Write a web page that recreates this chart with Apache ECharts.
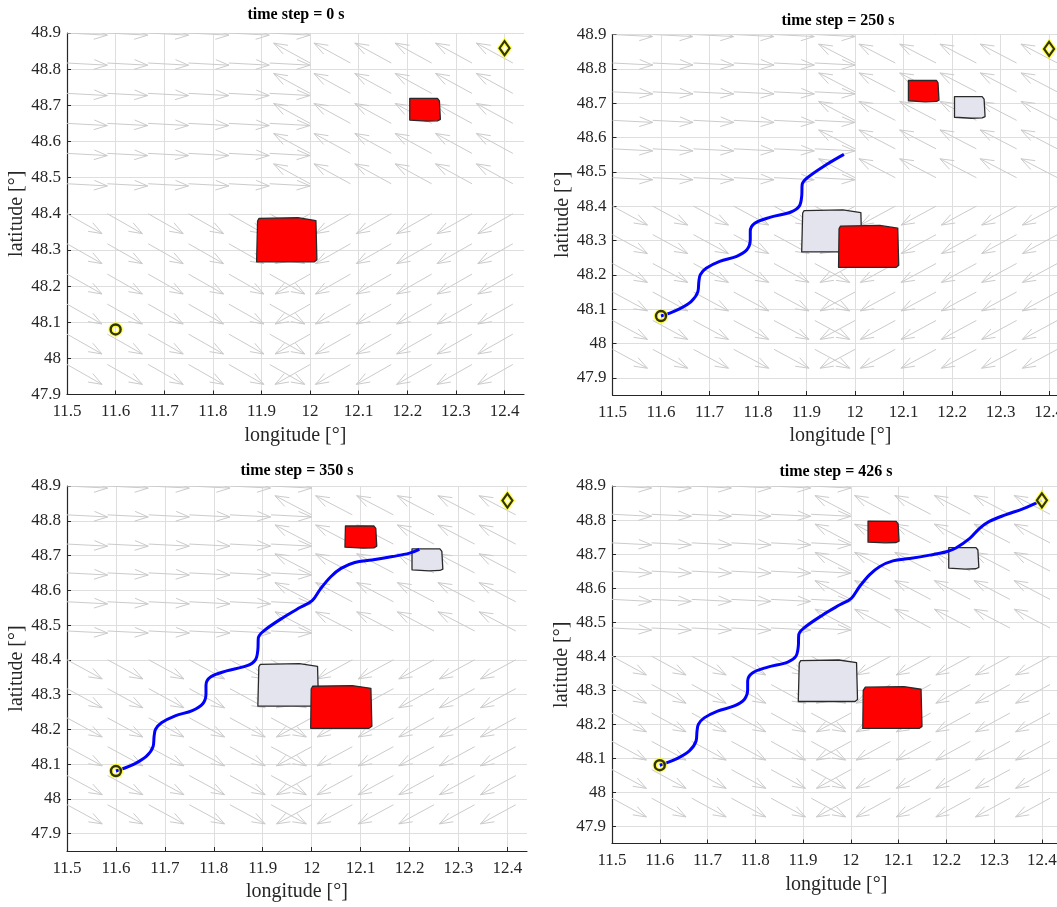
<!DOCTYPE html>
<html>
<head>
<meta charset="utf-8">
<title>time steps</title>
<script src="https://cdn.jsdelivr.net/npm/echarts@6/dist/echarts.min.js"></script>
<style>
  html, body { margin: 0; padding: 0; background: #fff; }
  #main { width: 1057px; height: 907px; }
</style>
</head>
<body>
<div id="main"></div>
<script>
// --- data ---
var timeSteps = [0, 250, 350, 426];
var xTicks = [11.5, 11.6, 11.7, 11.8, 11.9, 12, 12.1, 12.2, 12.3, 12.4];
var yTicks = [47.9, 48, 48.1, 48.2, 48.3, 48.4, 48.5, 48.6, 48.7, 48.8, 48.9];
var xRange = [11.5, 12.44];
var yMinByPanel = [47.9, 47.85, 47.85, 47.85];
var yMax = 48.9;

// quiver field (same in every panel)
var fieldLon = [11.5, 11.583, 11.667, 11.75, 11.833, 11.917, 12.0, 12.083, 12.167, 12.25, 12.333, 12.417];
var fieldLat = [48.9, 48.817, 48.733, 48.65, 48.567, 48.483, 48.4, 48.317, 48.233, 48.15, 48.067, 47.983];
var fieldSplit = [11.95, 48.45]; // lon / lat where the flow changes direction
var vecUpperLeft = [0.083, -0.006];
var vecUpperRight = [-0.075, 0.055];
var vecLowerLeft = [0.072, -0.055];
var vecLowerRight = [-0.072, -0.055];

var startPoint = [11.6, 48.08];
var goalPoint = [12.4, 48.858];

// trajectory, each panel shows the first pathLength[i] points
var pathPoints = [
  [11.600, 48.080], [11.613, 48.086], [11.637, 48.100], [11.662, 48.122], [11.676, 48.151],
  [11.678, 48.180], [11.681, 48.200], [11.693, 48.219], [11.721, 48.239], [11.756, 48.254],
  [11.777, 48.273], [11.784, 48.302], [11.784, 48.327], [11.794, 48.351], [11.826, 48.368],
  [11.868, 48.383], [11.885, 48.400], [11.890, 48.429], [11.891, 48.463], [11.901, 48.482],
  [11.942, 48.522], [11.977, 48.551], [12.001, 48.570], [12.018, 48.604], [12.039, 48.639],
  [12.060, 48.663], [12.088, 48.680], [12.123, 48.687], [12.165, 48.697], [12.200, 48.707],
  [12.220, 48.718], [12.249, 48.746], [12.269, 48.775], [12.290, 48.796], [12.325, 48.816],
  [12.360, 48.833], [12.400, 48.858]
];
var pathLength = [0, 22, 31, 37];

// obstacles (lon, lat vertices)
var bigObs0 = [[11.895, 48.387], [11.975, 48.389], [12.012, 48.381], [12.014, 48.273], [12.009, 48.267], [11.890, 48.267], [11.892, 48.380]];
var smallObs0 = [[12.205, 48.719], [12.262, 48.719], [12.266, 48.712], [12.268, 48.661], [12.262, 48.657], [12.240, 48.656], [12.205, 48.659]];
var bigObs250 = [[11.970, 48.342], [12.051, 48.344], [12.088, 48.336], [12.090, 48.228], [12.085, 48.222], [11.966, 48.222], [11.967, 48.334]];
var smallObs250 = [[12.110, 48.766], [12.168, 48.766], [12.171, 48.759], [12.173, 48.709], [12.168, 48.705], [12.145, 48.704], [12.110, 48.707]];
var bigObs350 = [[12.002, 48.324], [12.083, 48.326], [12.121, 48.318], [12.123, 48.209], [12.117, 48.203], [11.998, 48.203], [11.999, 48.316]];
var smallObs350 = [[12.069, 48.785], [12.127, 48.785], [12.131, 48.778], [12.133, 48.727], [12.127, 48.722], [12.105, 48.721], [12.068, 48.724]];
var bigObs426 = [[12.030, 48.309], [12.111, 48.311], [12.147, 48.303], [12.149, 48.194], [12.143, 48.188], [12.025, 48.188], [12.026, 48.300]];
var smallObs426 = [[12.036, 48.797], [12.095, 48.796], [12.099, 48.789], [12.101, 48.738], [12.095, 48.734], [12.072, 48.733], [12.036, 48.735]];

var redObstacles = [[bigObs0, smallObs0], [bigObs250, smallObs250], [bigObs350, smallObs350], [bigObs426, smallObs426]];
var greyObstacles = [[], [bigObs0, smallObs0], [bigObs0, smallObs0], [bigObs0, smallObs0]];

// --- chart ---
var chart = echarts.init(document.getElementById('main'));
var serif = 'Liberation Serif';
var axisColor = '#262626';
var gridColor = '#dedede';
var arrowColor = '#cbcbcb';

// panel boxes in px: left, top, width, height, title centre x, title centre y
var boxes = [
  [67, 33, 457, 361.5, 296, 16],
  [612.5, 34.5, 456, 360.5, 838, 22],
  [67, 486, 460, 365, 297, 472],
  [612, 486, 449, 357.5, 836, 473]
];

var fieldData = [];
fieldLat.forEach(function (lat) {
  fieldLon.forEach(function (lon) {
    var up = lat > fieldSplit[1], left = lon < fieldSplit[0];
    var v = up ? (left ? vecUpperLeft : vecUpperRight) : (left ? vecLowerLeft : vecLowerRight);
    fieldData.push([lon, lat, v[0], v[1]]);
  });
});

function renderArrow(params, api) {
  var p0 = api.coord([api.value(0), api.value(1)]);
  var p1 = api.coord([api.value(0) + api.value(2), api.value(1) + api.value(3)]);
  var dx = p1[0] - p0[0], dy = p1[1] - p0[1];
  var bx = p1[0] - dx * 0.33, by = p1[1] - dy * 0.33;
  var sx = -dy * 0.12, sy = dx * 0.12;
  var st = { stroke: arrowColor, fill: null, lineWidth: 1 };
  return {
    type: 'group',
    children: [
      { type: 'line', shape: { x1: p0[0], y1: p0[1], x2: p1[0], y2: p1[1] }, style: st },
      { type: 'polyline', shape: { points: [[bx + sx, by + sy], p1, [bx - sx, by - sy]] }, style: st }
    ]
  };
}

function polySeries(i, polys, fill, z) {
  return {
    type: 'custom', xAxisIndex: i, yAxisIndex: i, z: z, clip: true, silent: true,
    data: polys.map(function (p, k) { return [p[0][0], p[0][1], k]; }),
    renderItem: function (params, api) {
      var pts = polys[api.value(2)].map(function (v) { return api.coord(v); });
      return {
        type: 'polygon',
        shape: { points: pts },
        style: { fill: fill, stroke: '#2a2a2a', lineWidth: 1.3, lineJoin: 'round' }
      };
    }
  };
}

var grids = [], xAxes = [], yAxes = [], titles = [], series = [];

boxes.forEach(function (b, i) {
  grids.push({
    left: b[0], top: b[1], width: b[2], height: b[3],
    containLabel: false, outerBoundsMode: 'none'
  });
  titles.push({
    text: 'time step = ' + timeSteps[i] + ' s',
    left: b[4], top: b[5] - 9, padding: 0,
    textAlign: 'center', textVerticalAlign: 'top',
    textStyle: { fontFamily: serif, fontWeight: 'bold', fontSize: 16, color: '#000' }
  });
  xAxes.push({
    type: 'value', gridIndex: i, min: xRange[0], max: xRange[1],
    name: 'longitude [°]', nameLocation: 'middle', nameGap: 31,
    nameTextStyle: { fontFamily: serif, fontSize: 20, color: axisColor },
    axisLine: { show: true, onZero: false, lineStyle: { color: axisColor, width: 1.2 } },
    axisTick: { show: true, inside: true, length: 4, customValues: xTicks, lineStyle: { color: axisColor } },
    axisLabel: {
      customValues: xTicks, margin: 9, color: axisColor, fontFamily: serif, fontSize: 17,
      formatter: function (v) { return String(+(+v).toFixed(2)); }
    },
    splitLine: { show: true, lineStyle: { color: gridColor, width: 1 } }
  });
  yAxes.push({
    type: 'value', gridIndex: i, min: yMinByPanel[i], max: yMax,
    name: 'latitude [°]', nameLocation: 'middle', nameGap: 40,
    nameTextStyle: { fontFamily: serif, fontSize: 20, color: axisColor },
    axisLine: { show: true, onZero: false, lineStyle: { color: axisColor, width: 1.2 } },
    axisTick: { show: true, inside: true, length: 4, customValues: yTicks, lineStyle: { color: axisColor } },
    axisLabel: {
      customValues: yTicks, margin: 6, color: axisColor, fontFamily: serif, fontSize: 17,
      formatter: function (v) { return String(+(+v).toFixed(2)); }
    },
    splitLine: { show: true, lineStyle: { color: gridColor, width: 1 } }
  });

  series.push({
    type: 'custom', xAxisIndex: i, yAxisIndex: i, z: 1, clip: true, silent: true,
    encode: { x: 0, y: 1 }, data: fieldData, renderItem: renderArrow
  });
  series.push(polySeries(i, greyObstacles[i], '#e4e4ee', 2));
  series.push(polySeries(i, redObstacles[i], '#ff0000', 3));
  if (pathLength[i] > 0) {
    series.push({
      type: 'line', xAxisIndex: i, yAxisIndex: i, z: 4, silent: true,
      data: pathPoints.slice(0, pathLength[i]),
      showSymbol: false, smooth: 0.35,
      lineStyle: { color: '#0000ff', width: 3 }
    });
  }
  // start marker
  series.push({
    type: 'scatter', xAxisIndex: i, yAxisIndex: i, z: 5, silent: true,
    data: [startPoint], symbol: 'circle', symbolSize: 10,
    itemStyle: { color: 'rgba(0,0,0,0)', borderColor: '#ffff00', borderWidth: 4.5 }
  });
  series.push({
    type: 'scatter', xAxisIndex: i, yAxisIndex: i, z: 6, silent: true,
    data: [startPoint], symbol: 'circle', symbolSize: 10,
    itemStyle: { color: 'rgba(0,0,0,0)', borderColor: '#000', borderWidth: 2.4 }
  });
  // goal marker
  series.push({
    type: 'scatter', xAxisIndex: i, yAxisIndex: i, z: 5, silent: true,
    data: [goalPoint], symbol: 'diamond', symbolSize: [10, 14],
    itemStyle: { color: '#fff', borderColor: '#ffff00', borderWidth: 4.5 }
  });
  series.push({
    type: 'scatter', xAxisIndex: i, yAxisIndex: i, z: 6, silent: true,
    data: [goalPoint], symbol: 'diamond', symbolSize: [10, 14],
    itemStyle: { color: 'rgba(0,0,0,0)', borderColor: '#000', borderWidth: 2.2 }
  });
});

chart.setOption({
  backgroundColor: '#fff',
  animation: false,
  title: titles,
  grid: grids,
  xAxis: xAxes,
  yAxis: yAxes,
  series: series
});
</script>
</body>
</html>
